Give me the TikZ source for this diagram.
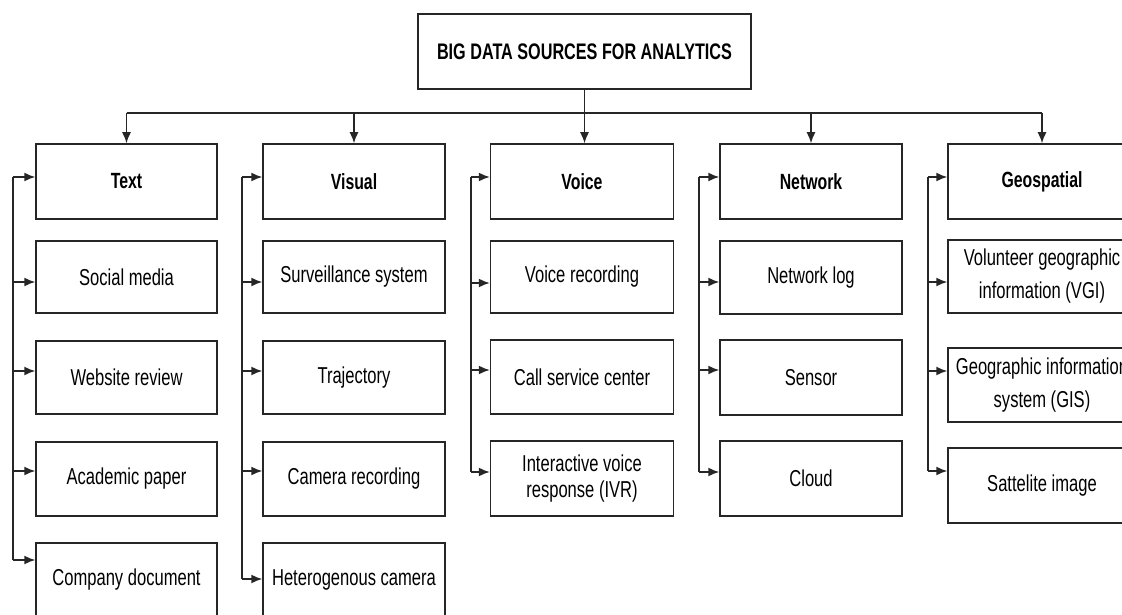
\documentclass[tikz,border=0pt]{standalone}
\usepackage{fontspec}
\setmainfont[FakeStretch=0.72]{Liberation Sans}
\usetikzlibrary{arrows.meta}
\tikzset{
  box/.style={draw=black!85, line width=1.5pt, inner sep=0pt, align=center,
    font=\fontsize{23}{26}\selectfont},
  head/.style={box, font=\fontsize{22}{26}\selectfont\bfseries},
  geo/.style={box, font=\fontsize{23}{33}\selectfont},
  conn/.style={line width=1.5pt, draw=black!85},
  arr/.style={conn, -{Latex[length=11pt,width=9pt]}}
}
\begin{document}
\begin{tikzpicture}[x=1pt,y=-1pt]
\useasboundingbox (0,0) rectangle (1122,615);
% root
\node[head, font=\fontsize{22.5}{26}\selectfont\bfseries, minimum width=333pt, minimum height=75pt] (root) at (584.5,51.5) {BIG DATA SOURCES FOR ANALYTICS};
% Text column
\node[head, minimum width=181pt, minimum height=75pt] (t0) at (126.5,181.5) {Text};
\node[box, minimum width=181pt, minimum height=72pt] (t1) at (126.5,277) {Social media};
\node[box, minimum width=181pt, minimum height=73pt] (t2) at (126.5,377.5) {Website review};
\node[box, minimum width=181pt, minimum height=74pt] (t3) at (126.5,479) {Academic paper};
\node[box, minimum width=181pt, minimum height=74pt] (t4) at (126.5,580) {Company document};
% Visual column
\node[head, minimum width=182pt, minimum height=75pt] (s0) at (354,181.5) {Visual};
\node[box, minimum width=182pt, minimum height=72pt] (s1) at (354,277) {Surveillance system};
\node[box, minimum width=182pt, minimum height=73pt] (s2) at (354,377.5) {Trajectory};
\node[box, minimum width=182pt, minimum height=74pt] (s3) at (354,479) {Camera recording};
\node[box, minimum width=182pt, minimum height=74pt] (s4) at (354,580) {Heterogenous camera};
% Voice column
\node[head, minimum width=183pt, minimum height=75pt] (v0) at (582,181.5) {Voice};
\node[box, minimum width=183pt, minimum height=72pt] (v1) at (582,277) {Voice recording};
\node[box, minimum width=183pt, minimum height=74pt] (v2) at (582,377) {Call service center};
\node[box, minimum width=183pt, minimum height=75pt] (v3) at (582,478.5) {Interactive voice\\response (IVR)};
% Network column
\node[head, minimum width=182pt, minimum height=75pt] (n0) at (811,181.5) {Network};
\node[box, minimum width=182pt, minimum height=73pt] (n1) at (811,277.5) {Network log};
\node[box, minimum width=182pt, minimum height=75pt] (n2) at (811,377.5) {Sensor};
\node[box, minimum width=182pt, minimum height=75pt] (n3) at (811,478.5) {Cloud};
% Geospatial column
\node[head, minimum width=188pt, minimum height=75pt] (g0) at (1042,181.5) {Geospatial};
\node[geo, minimum width=188pt, minimum height=73pt] (g1) at (1042,276.5) {Volunteer geographic\\information (VGI)};
\node[geo, minimum width=188pt, minimum height=74pt] (g2) at (1042,385) {Geographic information\\system (GIS)};
\node[geo, minimum width=188pt, minimum height=75pt] (g3) at (1042,485.5) {Sattelite image};
% top tree
\coordinate (hl) at (126.5,113);
\coordinate (hr) at (1042,113);
\draw[conn] (hl) -- (hr);
\draw[arr] (root.south) -- (root.south |- v0.north);
\foreach \n in {t0,s0,n0,g0} \draw[arr] (\n.north |- hl) -- (\n.north);
% spines
\draw[conn] (13,177) -- (13,560);
\foreach \n/\y in {t0/177,t1/282,t2/371,t3/471,t4/560} \draw[arr] (13,\y) -- (\n.west |- 0,\y);
\draw[conn] (242,177) -- (242,579);
\foreach \n/\y in {s0/177,s1/282,s2/371,s3/471,s4/579} \draw[arr] (242,\y) -- (\n.west |- 0,\y);
\draw[conn] (471,177) -- (471,472);
\foreach \n/\y in {v0/177,v1/283,v2/370,v3/472} \draw[arr] (471,\y) -- (\n.west |- 0,\y);
\draw[conn] (699,177) -- (699,472);
\foreach \n/\y in {n0/177,n1/282,n2/370,n3/472} \draw[arr] (699,\y) -- (\n.west |- 0,\y);
\draw[conn] (928,177) -- (928,471);
\foreach \n/\y in {g0/177,g1/282,g2/371,g3/471} \draw[arr] (928,\y) -- (\n.west |- 0,\y);
\end{tikzpicture}
\end{document}
